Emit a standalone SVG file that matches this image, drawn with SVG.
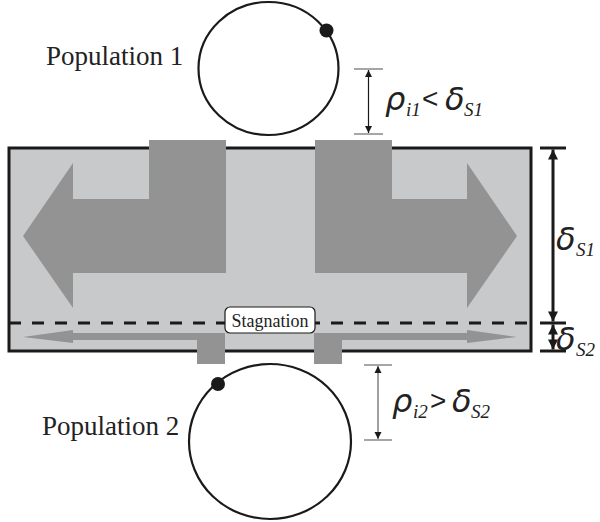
<svg xmlns="http://www.w3.org/2000/svg" width="600" height="522" viewBox="0 0 600 522">
<style>
.lbl{font-family:"Liberation Serif","Times New Roman",serif;fill:#222}
.math{font-family:"Liberation Serif","Times New Roman",serif;font-style:italic;fill:#222}
.greek{font-family:"DejaVu Sans",sans-serif;font-style:oblique;fill:#222}
.sym{font-family:"Liberation Sans",Arial,sans-serif;fill:#222}
.dark{fill:#939393}
.ring{fill:none;stroke:#1a1a1a;stroke-width:2.2}
.tick{stroke:#888;stroke-width:1.5}
.tickb{stroke:#1a1a1a;stroke-width:3}
</style>
<defs>
<marker id="ah" viewBox="0 0 10 10" refX="10" refY="5" markerWidth="7" markerHeight="8" markerUnits="userSpaceOnUse" orient="auto-start-reverse">
<path d="M0,0 L10,5 L0,10 z" fill="#1a1a1a"/>
</marker>
<marker id="ahb" viewBox="0 0 10 10" refX="10" refY="5" markerWidth="12" markerHeight="10" markerUnits="userSpaceOnUse" orient="auto-start-reverse">
<path d="M0,0 L10,5 L0,10 z" fill="#1a1a1a"/>
</marker>
</defs>
<g id="channel">
<rect x="9" y="148" width="522" height="203" fill="#c8c9cb" stroke="#1a1a1a" stroke-width="3"/>
<polygon class="dark" points="149,140 226,140 226,273 73,273 73,308 23,236 73,163 73,199 149,199"/>
<polygon class="dark" points="315,140 392,140 392,199 467,199 467,163 517,236 467,308 467,273 315,273"/>
<polygon class="dark" points="225,333 225,364 197,364 197,340 73,340 73,343 23,337 73,330 73,333"/>
<polygon class="dark" points="314,333 314,364 342,364 342,340 467,340 467,343 517,337 467,330 467,333"/>
<line x1="9" y1="323" x2="531" y2="323" stroke="#1a1a1a" stroke-width="3" stroke-dasharray="12,11"/>
</g>
<g id="stagnation">
<rect x="225" y="307" width="90" height="26" rx="5" fill="#fff" stroke="#1a1a1a" stroke-width="1.2"/>
<text class="lbl" x="270" y="327" font-size="18" text-anchor="middle">Stagnation</text>
</g>
<g id="population1">
<ellipse class="ring" cx="268.5" cy="68.5" rx="70" ry="66.5"/>
<circle cx="326.5" cy="30.5" r="7" fill="#1a1a1a"/>
<text class="lbl" x="46" y="65" font-size="27">Population 1</text>
</g>
<g id="population2">
<ellipse class="ring" cx="270" cy="441.5" rx="81" ry="77.5"/>
<circle cx="218" cy="384" r="7" fill="#1a1a1a"/>
<text class="lbl" x="42" y="435" font-size="27">Population 2</text>
</g>
<g id="connectors">
<line class="tick" x1="354" y1="69" x2="383" y2="69"/>
<line class="tick" x1="354" y1="134" x2="383" y2="134"/>
<line x1="368.5" y1="70" x2="368.5" y2="133" stroke="#1a1a1a" stroke-width="1.2" marker-start="url(#ah)" marker-end="url(#ah)"/>
<line class="tick" x1="364" y1="365" x2="392" y2="365"/>
<line class="tick" x1="364" y1="440" x2="392" y2="440"/>
<line x1="378" y1="366" x2="378" y2="439" stroke="#777" stroke-width="1.4" marker-start="url(#ah)" marker-end="url(#ah)"/>
<line class="tickb" x1="540" y1="148" x2="566" y2="148"/>
<line class="tickb" x1="540" y1="323" x2="566" y2="323"/>
<line class="tickb" x1="540" y1="351" x2="566" y2="351"/>
<line x1="553" y1="149.5" x2="553" y2="321.5" stroke="#1a1a1a" stroke-width="3" marker-start="url(#ahb)" marker-end="url(#ahb)"/>
<line x1="553" y1="324.5" x2="553" y2="349.5" stroke="#1a1a1a" stroke-width="3" marker-start="url(#ahb)" marker-end="url(#ahb)"/>
</g>
<g id="labels">
<text class="greek" x="385" y="110" font-size="32">ρ</text>
<text class="math" x="406" y="116" font-size="19">i1</text>
<text class="sym" x="422" y="108" font-size="28">&lt;</text>
<text class="greek" x="445" y="110" font-size="32">δ</text>
<text class="math" x="464" y="116" font-size="19">S1</text>
<text class="greek" x="392" y="412" font-size="32">ρ</text>
<text class="math" x="413" y="418" font-size="19">i2</text>
<text class="sym" x="430" y="410" font-size="28">&gt;</text>
<text class="greek" x="452" y="412" font-size="32">δ</text>
<text class="math" x="471" y="418" font-size="19">S2</text>
<text class="greek" x="556" y="250" font-size="32">δ</text>
<text class="math" x="576" y="256" font-size="19">S1</text>
<text class="greek" x="556" y="350" font-size="32">δ</text>
<text class="math" x="576" y="356" font-size="19">S2</text>
</g>
</svg>
